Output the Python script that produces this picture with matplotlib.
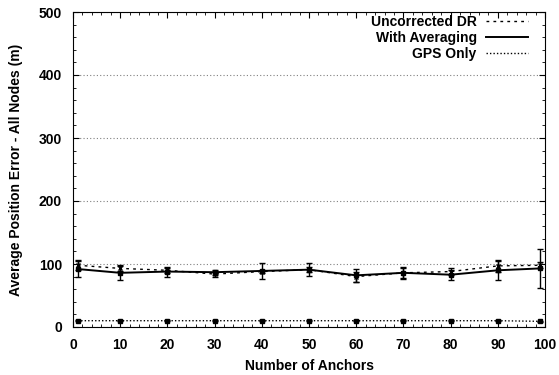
import matplotlib
matplotlib.use("Agg")
import matplotlib.pyplot as plt
from matplotlib.lines import Line2D
from matplotlib.ticker import MultipleLocator

plt.rcParams["font.family"] = ["Liberation Sans", "DejaVu Sans"]
plt.rcParams["font.weight"] = "bold"

# ---- data -------------------------------------------------------------
anchors = [1, 10, 20, 30, 40, 50, 60, 70, 80, 90, 99]
dr_mean = [98, 93, 90, 84, 88, 91, 80, 86, 88, 97, 98]
dr_err = [8, 4, 4, 4, 3, 4, 8, 8, 6, 9, 5]
avg_mean = [92, 86, 88, 87, 89, 91, 82, 86, 83, 90, 93]
avg_err = [13, 12, 8, 4, 13, 10, 10, 10, 8, 15, 31]
gps_mean = [10, 10, 10, 10, 10, 10, 10, 10, 10, 10, 9]
gps_err = [1, 1, 1, 1, 1, 1, 1, 1, 1, 1, 1]

FS = 10

fig = plt.figure(figsize=(5.59, 3.75), dpi=100)
ax = fig.add_axes([0.1306, 0.128, 0.8444, 0.84])

ax.errorbar(anchors, dr_mean, yerr=dr_err, color="black", lw=1.0,
            ls=(0, (2, 3)), marker="x", ms=3.5, capsize=2, elinewidth=1.0,
            label="Uncorrected DR")
ax.errorbar(anchors, avg_mean, yerr=avg_err, color="black", lw=1.4,
            ls="-", marker="s", ms=3.5, capsize=2.5, elinewidth=1.0,
            label="With Averaging")
ax.errorbar(anchors, gps_mean, yerr=gps_err, color="black", lw=1.0,
            ls=(0, (1, 1.5)), marker="s", ms=3.5, capsize=2, elinewidth=1.0,
            label="GPS Only")

ax.set_xlim(0, 100)
ax.set_ylim(0, 500)
ax.xaxis.set_major_locator(MultipleLocator(10))
ax.xaxis.set_minor_locator(MultipleLocator(2))
ax.yaxis.set_major_locator(MultipleLocator(100))
ax.yaxis.set_minor_locator(MultipleLocator(20))
ax.tick_params(which="both", direction="in", top=True, right=True,
               labelsize=FS)
ax.tick_params(axis="x", which="major", length=4, pad=8)
ax.tick_params(axis="y", which="major", length=4, pad=8)
ax.tick_params(which="minor", length=2)
ax.yaxis.grid(True, which="major", color="gray", ls=(0, (1, 2)), lw=0.8)

ax.set_xlabel("Number of Anchors", fontsize=FS, fontweight="bold",
              labelpad=5)
ax.set_ylabel("Average Position Error - All Nodes (m)", fontsize=FS,
              fontweight="bold", labelpad=11)

# legend without the error-bar markers, text before the line sample
handles = [
    Line2D([], [], color="black", lw=1.0, ls=(0, (2, 3))),
    Line2D([], [], color="black", lw=1.4, ls="-"),
    Line2D([], [], color="black", lw=1.0, ls=(0, (1, 1.5))),
]
labels = ["Uncorrected DR", "With Averaging", "GPS Only"]
ax.legend(handles, labels, loc="upper right", frameon=False,
          bbox_to_anchor=(0.964, 0.99), borderaxespad=0, borderpad=0,
          markerfirst=False, fontsize=FS, handlelength=3.0,
          labelspacing=0.15, handletextpad=0.7)

fig.savefig("out.png", dpi=100)
